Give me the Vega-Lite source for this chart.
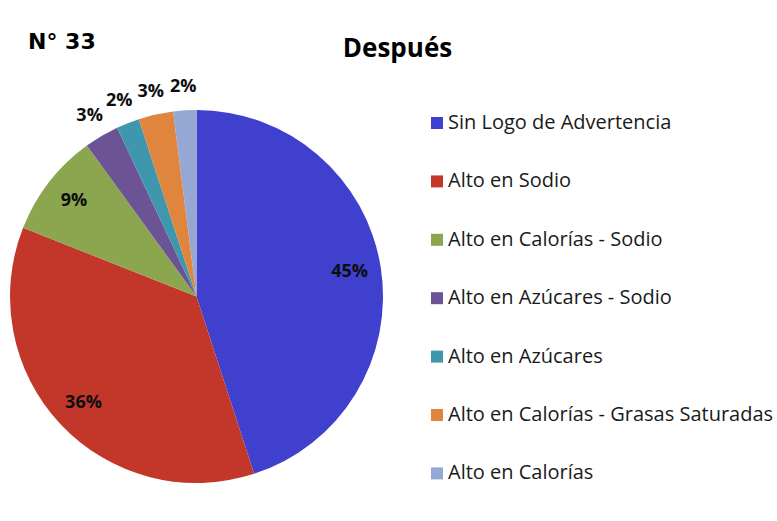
{
  "$schema": "https://vega.github.io/schema/vega-lite/v6.json",
  "background": "white",
  "padding": {"left": 10, "top": 30, "right": 0, "bottom": 0},
  "title": {"text": "N° 33", "anchor": "start", "dx": 18, "font": "DejaVu Sans", "fontSize": 22, "fontWeight": "bold", "color": "#000000", "offset": -18},
  "vconcat": [
    {
      "title": {"text": "Después", "anchor": "middle", "dx": 201, "font": "Open Sans", "fontSize": 26, "fontWeight": "bold", "color": "#000000", "offset": 16},
      "width": 373,
      "height": 373,
      "data": {
        "values": [
          {"cat": "Sin Logo de Advertencia", "value": 0.45, "idx": 1},
          {"cat": "Alto en Sodio", "value": 0.36, "idx": 2},
          {"cat": "Alto en Calorías - Sodio", "value": 0.09, "idx": 3},
          {"cat": "Alto en Azúcares - Sodio", "value": 0.03, "idx": 4},
          {"cat": "Alto en Azúcares", "value": 0.02, "idx": 5},
          {"cat": "Alto en Calorías - Grasas Saturadas", "value": 0.03, "idx": 6},
          {"cat": "Alto en Calorías", "value": 0.02, "idx": 7}
        ]
      },
      "encoding": {
        "theta": {"field": "value", "type": "quantitative", "stack": true},
        "order": {"field": "idx", "type": "quantitative"}
      },
      "layer": [
        {
          "mark": {"type": "arc", "strokeWidth": 0},
          "encoding": {
            "color": {
              "field": "cat",
              "type": "nominal",
              "scale": {
                "domain": ["Sin Logo de Advertencia", "Alto en Sodio", "Alto en Calorías - Sodio", "Alto en Azúcares - Sodio", "Alto en Azúcares", "Alto en Calorías - Grasas Saturadas", "Alto en Calorías"],
                "range": ["#4040CF", "#C3372B", "#8BA64F", "#6C5396", "#3F97AE", "#DF853D", "#95A8D3"]
              },
              "legend": {
                "title": null,
                "orient": "none",
                "legendX": 417,
                "legendY": 3,
                "padding": 0,
                "symbolType": "square",
                "symbolSize": 144,
                "symbolStrokeWidth": 0,
                "labelFont": "Open Sans",
                "labelFontSize": 20,
                "labelColor": "#1a1a1a",
                "labelOffset": 1,
                "labelLimit": 400,
                "rowPadding": 38.4
              }
            }
          }
        },
        {
          "mark": {"type": "text", "radius": 155, "font": "Open Sans", "fontSize": 18, "fontWeight": "bold", "color": "#0d0d0d"},
          "encoding": {
            "text": {"field": "value", "type": "quantitative", "format": ".0%", "condition": {"test": "datum.value < 0.05", "value": ""}}
          }
        },
        {
          "mark": {"type": "text", "radius": 210, "font": "Open Sans", "fontSize": 18, "fontWeight": "bold", "color": "#0d0d0d"},
          "encoding": {
            "text": {"field": "value", "type": "quantitative", "format": ".0%", "condition": {"test": "datum.value >= 0.05", "value": ""}}
          }
        }
      ]
    }
  ],
  "config": {"view": {"stroke": null}}
}
